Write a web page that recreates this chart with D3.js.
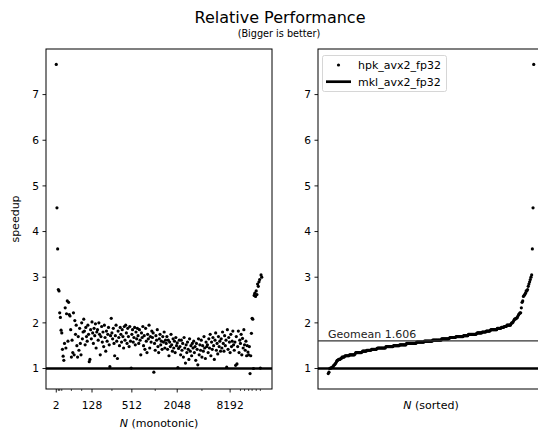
<!DOCTYPE html>
<html>
<head>
<meta charset="utf-8">
<script src="https://d3js.org/d3.v7.min.js"></script>
<style>
  body { margin: 0; background: white; }
  svg { display: block; font-family: "DejaVu Sans", sans-serif; }
</style>
</head>
<body>
<svg id="chart" width="538" height="431"></svg>
<script>
// speedup of hpk over mkl, one value per problem size, in N order
var speedup = [
  7.66, 4.52, 3.62, 2.73, 2.70, 2.22, 2.12, 1.84, 1.78, 1.42, 1.27, 1.18, 1.55, 2.33, 1.45, 2.20, 2.48, 1.60, 2.45, 2.18,
  2.15, 1.85, 1.25, 1.62, 1.35, 2.22, 1.30, 2.05, 1.75, 1.95, 1.50, 1.25, 1.70, 1.40, 1.88, 1.55, 1.30, 2.00, 1.65, 1.80,
  2.08, 1.82, 1.52, 1.90, 1.70, 1.60, 1.95, 1.75, 1.15, 1.20, 1.85, 1.65, 2.02, 1.78, 1.55, 1.88, 1.72, 1.98, 1.45, 1.80,
  1.85, 1.62, 2.00, 1.75, 1.30, 1.70, 1.92, 1.58, 1.80, 1.48, 1.95, 1.68, 1.38, 1.82, 1.60, 1.75, 1.90, 1.52, 1.04, 1.72,
  2.10, 1.78, 1.65, 1.88, 1.55, 1.28, 1.72, 1.95, 1.60, 1.22, 1.82, 1.68, 1.50, 1.90, 1.75, 1.58, 1.85, 1.70, 1.45, 1.92,
  1.62, 1.95, 1.78, 1.55, 1.88, 1.70, 1.48, 1.92, 1.60, 1.01, 1.75, 1.85, 1.58, 1.68, 1.90, 1.52, 1.80, 1.65, 1.88, 1.72,
  1.55, 1.85, 1.62, 1.30, 1.78, 1.68, 1.92, 1.50, 1.72, 1.42, 1.88, 1.60, 1.35, 1.75, 1.65, 1.95, 1.45, 1.70, 1.58, 1.82,
  1.68, 1.78, 0.92, 1.55, 1.40, 1.72, 1.62, 1.85, 1.48, 1.35, 1.65, 1.75, 1.52, 1.60, 1.42, 1.70, 1.58, 1.80, 1.45, 1.62,
  1.55, 1.70, 1.42, 1.62, 1.28, 1.58, 1.48, 1.75, 1.52, 1.38, 1.65, 1.45, 1.60, 1.35, 1.68, 1.50, 1.56, 1.02, 1.44, 1.62,
  1.48, 1.30, 1.62, 1.40, 1.55, 1.25, 1.68, 1.45, 1.12, 1.52, 1.35, 1.58, 1.42, 1.20, 1.65, 1.38, 1.50, 1.28, 1.55, 1.45,
  1.60, 1.35, 1.48, 1.18, 1.55, 1.42, 1.08, 1.65, 1.30, 1.52, 1.40, 1.62, 1.25, 1.50, 1.38, 1.70, 1.45, 1.22, 1.58, 1.48,
  1.52, 1.35, 1.65, 1.45, 1.75, 1.28, 1.58, 1.42, 1.68, 1.50, 1.20, 1.62, 1.78, 1.40, 1.55, 1.32, 1.70, 1.48, 1.60, 1.38,
  1.65, 1.45, 1.80, 1.55, 1.38, 1.72, 1.50, 1.62, 1.03, 1.85, 1.42, 1.68, 1.58, 1.35, 1.75, 1.48, 1.60, 1.82, 1.52, 1.40,
  1.58, 1.07, 1.70, 1.10, 1.48, 1.82, 1.35, 1.62, 1.55, 1.75, 1.30, 1.66, 1.45, 1.85, 1.52, 1.40, 1.60, 1.28, 1.50, 1.36,
  1.30, 1.48, 0.89, 1.28, 1.77, 2.10, 2.08, 1.00, 2.60, 2.65, 2.58, 2.70, 2.62, 2.85, 2.80, 2.90, 2.95, 1.01, 3.05, 3.00
];
var baseline = 1;          // mkl_avx2_fp32 is the reference
var geomean = 1.606;
var seriesNames = ['hpk_avx2_fp32', 'mkl_avx2_fp32'];
var yTicks = [1, 2, 3, 4, 5, 6, 7];
var xTickLabels = ['2', '128', '512', '2048', '8192'];
var xTickIdx = [0, 52, 110, 176, 253];
var xMinorIdx = [3, 5, 8, 22, 37, 81, 144, 212, 268, 274, 280, 285, 291, 297];

var svg = d3.select('#chart');
var n = speedup.length;
var plotTop = 49, plotBottom = 389;
var panels = [{x0: 46, x1: 272}, {x0: 318, x1: 544}];

var ext = d3.extent(speedup);
var pad = (ext[1] - ext[0]) * 0.05;
var y = d3.scaleLinear().domain([ext[0] - pad, ext[1] + pad]).range([plotBottom, plotTop]);

function xScale(p) {
  return d3.scaleLinear()
    .domain([-0.05 * (n - 1), 1.05 * (n - 1)])
    .range([p.x0, p.x1]);
}
var xL = xScale(panels[0]);
var xR = xScale(panels[1]);
var sorted = d3.sort(speedup);

// titles
svg.append('text').attr('x', 280).attr('y', 23).attr('text-anchor', 'middle')
  .style('font-size', '16px').text('Relative Performance');
svg.append('text').attr('x', 279).attr('y', 37).attr('text-anchor', 'middle')
  .style('font-size', '9.7px').text('(Bigger is better)');

function drawPanel(p, x, data) {
  var g = svg.append('g');
  // y ticks
  var yt = g.selectAll('.yt').data(yTicks).enter().append('g');
  yt.append('line')
    .attr('x1', p.x0 - 3.5).attr('x2', p.x0)
    .attr('y1', d => y(d)).attr('y2', d => y(d))
    .attr('stroke', 'black').attr('stroke-width', 0.9);
  yt.append('text')
    .attr('x', p.x0 - 7).attr('y', d => y(d)).attr('dy', '0.36em')
    .attr('text-anchor', 'end').style('font-size', '10.7px')
    .text(d => d);

  // points
  g.selectAll('circle').data(data).enter().append('circle')
    .attr('cx', (d, i) => x(i))
    .attr('cy', d => y(d))
    .attr('r', 1.6)
    .attr('fill', 'black');

  // baseline (mkl)
  g.append('line')
    .attr('x1', p.x0).attr('x2', p.x1)
    .attr('y1', y(baseline)).attr('y2', y(baseline))
    .attr('stroke', 'black').attr('stroke-width', 2.7);

  // frame
  g.append('rect')
    .attr('x', p.x0).attr('y', plotTop)
    .attr('width', p.x1 - p.x0).attr('height', plotBottom - plotTop)
    .attr('fill', 'none').attr('stroke', 'black').attr('stroke-width', 1);
  return g;
}

var gl = drawPanel(panels[0], xL, speedup);
var gr = drawPanel(panels[1], xR, sorted);

// left x axis: major + minor ticks
gl.selectAll('.xt').data(xTickIdx).enter().append('line')
  .attr('x1', d => xL(d)).attr('x2', d => xL(d))
  .attr('y1', plotBottom).attr('y2', plotBottom + 3.5)
  .attr('stroke', 'black').attr('stroke-width', 0.9);
gl.selectAll('.xm').data(xMinorIdx).enter().append('line')
  .attr('x1', d => xL(d)).attr('x2', d => xL(d))
  .attr('y1', plotBottom).attr('y2', plotBottom + 2)
  .attr('stroke', 'black').attr('stroke-width', 0.7);
gl.selectAll('.xl').data(xTickIdx).enter().append('text')
  .attr('x', d => xL(d)).attr('y', 409)
  .attr('text-anchor', 'middle').style('font-size', '10.7px')
  .text((d, i) => xTickLabels[i]);

var xlab = svg.append('text').attr('x', 159).attr('y', 427)
  .attr('text-anchor', 'middle').style('font-size', '11px');
xlab.append('tspan').style('font-style', 'italic').text('N');
xlab.append('tspan').text(' (monotonic)');

var xlab2 = svg.append('text').attr('x', 431).attr('y', 409)
  .attr('text-anchor', 'middle').style('font-size', '11px');
xlab2.append('tspan').style('font-style', 'italic').text('N');
xlab2.append('tspan').text(' (sorted)');

svg.append('text')
  .attr('transform', 'translate(18.5,219) rotate(-90)')
  .attr('text-anchor', 'middle').style('font-size', '11px')
  .text('speedup');

// geomean
gr.append('line')
  .attr('x1', panels[1].x0).attr('x2', panels[1].x1)
  .attr('y1', y(geomean)).attr('y2', y(geomean))
  .attr('stroke', '#333').attr('stroke-width', 1.1);
gr.append('text')
  .attr('x', 328).attr('y', y(geomean) - 2.5)
  .style('font-size', '11px').attr('fill', '#222')
  .text('Geomean ' + geomean.toFixed(3));

// legend
var lg = svg.append('g');
lg.append('rect')
  .attr('x', 322.5).attr('y', 55.5).attr('width', 124).attr('height', 36)
  .attr('rx', 2).attr('fill', 'white').attr('fill-opacity', 0.8)
  .attr('stroke', '#ccc').attr('stroke-width', 0.8);
lg.append('circle').attr('cx', 338.5).attr('cy', 65).attr('r', 1.6).attr('fill', 'black');
lg.append('line').attr('x1', 326).attr('x2', 351).attr('y1', 81.7).attr('y2', 81.7)
  .attr('stroke', 'black').attr('stroke-width', 2.7);
lg.selectAll('.lt').data(seriesNames).enter().append('text')
  .attr('x', 358).attr('y', (d, i) => 65 + i * 16.7).attr('dy', '0.36em')
  .style('font-size', '11px')
  .text(d => d);
</script>
</body>
</html>
